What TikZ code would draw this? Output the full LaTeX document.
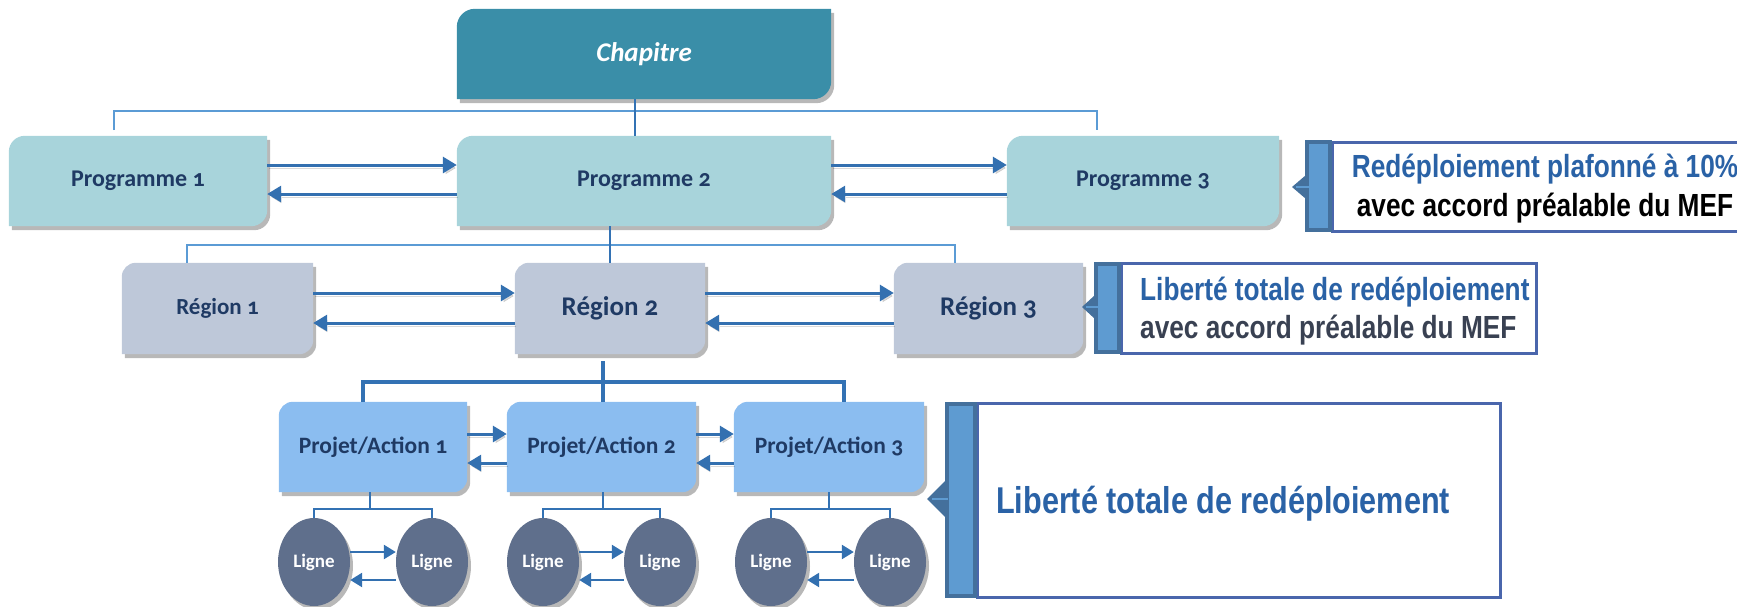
\documentclass[tikz,border=0pt]{standalone}
\usepackage{fontspec}
\setmainfont{Carlito}[Numbers=OldStyle]
\newfontfamily\narrowfont{Liberation Sans}[FakeStretch=0.82]
\usetikzlibrary{arrows.meta,shadows,shapes.geometric}
\definecolor{chapC}{HTML}{3A8EA8}
\definecolor{progC}{HTML}{A8D4DB}
\definecolor{regC}{HTML}{BEC8D9}
\definecolor{projC}{HTML}{8BBDF0}
\definecolor{ligC}{HTML}{5F6F8C}
\definecolor{txtC}{HTML}{1F3A64}
\definecolor{busC}{HTML}{5B9BD5}
\definecolor{linkC}{HTML}{3372B4}
\definecolor{arrC}{HTML}{3370B0}
\definecolor{barC}{HTML}{5E9BD1}
\definecolor{barD}{HTML}{44709C}
\definecolor{frameC}{HTML}{4A66AC}
\definecolor{blueT}{HTML}{2A62A6}
\definecolor{grayT}{HTML}{394152}
\pgfdeclarelayer{bg}
\pgfsetlayers{bg,main}
\newcommand\diagfill[3]{%
  \fill[#2, drop shadow={shadow xshift=3pt, shadow yshift=-4pt, opacity=0.28, fill=black}]
    (#1.south west) -- ([yshift=-#3]#1.north west)
    .. controls ([yshift=-0.45*#3]#1.north west) and ([xshift=0.45*#3]#1.north west) ..
    ([xshift=#3]#1.north west) -- (#1.north east) -- ([yshift=#3]#1.south east)
    .. controls ([yshift=0.45*#3]#1.south east) and ([xshift=-0.45*#3]#1.south east) ..
    ([xshift=-#3]#1.south east) -- cycle;}
\tikzset{
  lbl/.style={inner sep=0pt, text=txtC, font=\bfseries\fontsize{24}{28}\selectfont},
  lig/.style={ellipse, fill=ligC, minimum width=72pt, minimum height=88pt, inner sep=0pt,
    text=white, font=\bfseries\fontsize{19}{22}\selectfont,
    drop shadow={shadow xshift=3pt, shadow yshift=-4pt, opacity=0.28, fill=black}},
  busL/.style={draw=busC, line width=2.5pt},
  linkL/.style={draw=linkC, line width=2pt},
  projBus/.style={draw=linkC, line width=3.5pt},
  ligBus/.style={draw=linkC, line width=2.5pt},
  arr/.style={draw=arrC, line width=3pt, -{Triangle[length=14pt,width=16pt]},
    preaction={draw=black, opacity=0.15, transform canvas={shift={(1.5pt,-3pt)}}}},
  sarr/.style={draw=arrC, line width=2.5pt, -{Triangle[length=12pt,width=14pt]}},
  ctext/.style={inner sep=0pt, font=\narrowfont\bfseries\fontsize{32}{38}\selectfont},
}
\begin{document}
\begin{tikzpicture}[x=1pt,y=-1pt]
\useasboundingbox (0,0) rectangle (1737,606);
\clip (0,0) rectangle (1737,606);

% boxes
\node[lbl, text=white, font=\bfseries\itshape\fontsize{27}{32}\selectfont,
  minimum width=374pt, minimum height=90pt] (chap) at (644,54) {Chapitre};
\node[lbl, minimum width=258pt, minimum height=90pt] (p1) at (138,181) {Programme 1};
\node[lbl, minimum width=374pt, minimum height=90pt] (p2) at (644,181) {Programme 2};
\node[lbl, minimum width=272pt, minimum height=90pt] (p3) at (1143,181) {Programme 3};
\node[lbl, font=\bfseries\fontsize{23}{27}\selectfont, minimum width=191pt, minimum height=91pt] (r1) at (217.5,308.5) {Région 1};
\node[lbl, font=\bfseries\fontsize{27}{32}\selectfont, minimum width=190pt, minimum height=91pt] (r2) at (610,308.5) {Région 2};
\node[lbl, font=\bfseries\fontsize{27}{32}\selectfont, minimum width=189pt, minimum height=91pt] (r3) at (988.5,308.5) {Région 3};
\node[lbl, font=\bfseries\fontsize{23.5}{28}\selectfont, minimum width=188pt, minimum height=90pt] (pa1) at (373,447) {Projet/Action 1};
\node[lbl, font=\bfseries\fontsize{23.5}{28}\selectfont, minimum width=189pt, minimum height=90pt] (pa2) at (601.5,447) {Projet/Action 2};
\node[lbl, font=\bfseries\fontsize{23.5}{28}\selectfont, minimum width=190pt, minimum height=90pt] (pa3) at (829,447) {Projet/Action 3};

\begin{pgfonlayer}{bg}
\diagfill{chap}{chapC}{18pt}
\diagfill{p1}{progC}{16pt}
\diagfill{p2}{progC}{16pt}
\diagfill{p3}{progC}{16pt}
\diagfill{r1}{regC}{14pt}
\diagfill{r2}{regC}{14pt}
\diagfill{r3}{regC}{14pt}
\diagfill{pa1}{projC}{14pt}
\diagfill{pa2}{projC}{14pt}
\diagfill{pa3}{projC}{14pt}
\end{pgfonlayer}

% lignes
\node[lig] (l1a) at (314,562) {Ligne};
\node[lig] (l1b) at (432,562) {Ligne};
\node[lig] (l2a) at (543,562) {Ligne};
\node[lig] (l2b) at (660,562) {Ligne};
\node[lig] (l3a) at (771,562) {Ligne};
\node[lig] (l3b) at (890,562) {Ligne};

% hierarchy connectors
\coordinate (ta) at (114,130);
\coordinate (tb) at (1097,130);
\coordinate (cbus) at (635,111);
\draw[busL] (ta) |- (cbus) -| (tb);
\draw[linkL] (chap.south -| cbus) -- (p2.north -| cbus);

\coordinate (ra) at (187,263);
\coordinate (rb) at (955,263);
\coordinate (rbus) at (610,245);
\draw[busL] (r1.north -| ra) |- (rbus) -| (r3.north -| rb);
\draw[linkL] (p2.south -| rbus) -- (r2.north -| rbus);

\coordinate (pa) at (363,402);
\coordinate (pb) at (844,402);
\coordinate (pbus) at (603,382);
\draw[projBus] (pa1.north -| pa) |- (pbus) -| (pa3.north -| pb);
\draw[projBus] ([yshift=-7pt]r2.south -| pbus) -- (pa2.north -| pbus);

\coordinate (lb1) at (370,509);
\coordinate (lb2) at (603,509);
\coordinate (lb3) at (829,509);
\draw[ligBus] (l1a.north) |- (lb1) -| (l1b.north);
\draw[ligBus] (pa1.south -| lb1) -- (lb1);
\draw[ligBus] (l2a.north) |- (lb2) -| (l2b.north);
\draw[ligBus] (pa2.south -| lb2) -- (lb2);
\draw[ligBus] (l3a.north) |- (lb3) -| (l3b.north);
\draw[ligBus] (pa3.south -| lb3) -- (lb3);

% horizontal arrows
\draw[arr] ([yshift=16pt]p1.east) -- ([yshift=16pt]p2.west);
\draw[arr] ([yshift=-13pt]p2.west) -- ([yshift=-13pt]p1.east);
\draw[arr] ([yshift=16pt]p2.east) -- ([yshift=16pt]p3.west);
\draw[arr] ([yshift=-13pt]p3.west) -- ([yshift=-13pt]p2.east);
\draw[arr] ([yshift=15.5pt]r1.east) -- ([yshift=15.5pt]r2.west);
\draw[arr] ([yshift=-14.5pt]r2.west) -- ([yshift=-14.5pt]r1.east);
\draw[arr] ([yshift=15.5pt]r2.east) -- ([yshift=15.5pt]r3.west);
\draw[arr] ([yshift=-14.5pt]r3.west) -- ([yshift=-14.5pt]r2.east);
\draw[arr] ([yshift=13pt]pa1.east) -- ([yshift=13pt]pa2.west);
\draw[arr] ([yshift=-16pt]pa2.west) -- ([yshift=-16pt]pa1.east);
\draw[arr] ([yshift=13pt]pa2.east) -- ([yshift=13pt]pa3.west);
\draw[arr] ([yshift=-16pt]pa3.west) -- ([yshift=-16pt]pa2.east);
\draw[sarr] ([yshift=10pt]l1a.east) -- ([yshift=10pt]l1b.west);
\draw[sarr] ([yshift=-18pt]l1b.west) -- ([yshift=-18pt]l1a.east);
\draw[sarr] ([yshift=10pt]l2a.east) -- ([yshift=10pt]l2b.west);
\draw[sarr] ([yshift=-18pt]l2b.west) -- ([yshift=-18pt]l2a.east);
\draw[sarr] ([yshift=10pt]l3a.east) -- ([yshift=10pt]l3b.west);
\draw[sarr] ([yshift=-18pt]l3b.west) -- ([yshift=-18pt]l3a.east);

% callout 1
\fill[white] (1332,142) rectangle (1760,231);
\draw[frameC, line width=3pt] (1760,142) -- (1332,142) -- (1332,231) -- (1760,231);
\fill[barD] (1306,175) -- (1292,187) -- (1306,199) -- cycle;
\filldraw[fill=barC, draw=barD, line width=4pt] (1307,142) rectangle (1330,230);
\draw[barC, line width=2pt] (1296,187) -- (1309,187);
\node[ctext, text=blueT, anchor=base] (c1a) at (1545,177) {Redéploiement plafonné à 10\%};
\node[ctext, text=black, anchor=base] (c1b) at (1545,216) {avec accord préalable du MEF};

% callout 2
\fill[white] (1121,263) rectangle (1536,353);
\draw[frameC, line width=3pt] (1121,263) rectangle (1536,353);
\fill[barD] (1095,295) -- (1082,307) -- (1095,319) -- cycle;
\filldraw[fill=barC, draw=barD, line width=4pt] (1096,264) rectangle (1119,352);
\draw[barC, line width=2pt] (1086,307) -- (1098,307);
\node[ctext, text=blueT, anchor=base west] (c2a) at (1140,300) {Liberté totale de redéploiement};
\node[ctext, text=grayT, anchor=base west] (c2b) at (1140,338) {avec accord préalable du MEF};

% callout 3
\fill[white] (977,403) rectangle (1500,597);
\draw[frameC, line width=3pt] (977,403) rectangle (1500,597);
\fill[barD] (945,481) -- (927,499) -- (945,517) -- cycle;
\filldraw[fill=barC, draw=barD, line width=4pt] (947,404) rectangle (975,596);
\draw[barC, line width=2pt] (932,499) -- (948,499);
\node[ctext, text=blueT, font=\narrowfont\bfseries\fontsize{37.3}{44}\selectfont, anchor=base west] (c3) at (996,513) {Liberté totale de redéploiement};
\end{tikzpicture}
\end{document}
